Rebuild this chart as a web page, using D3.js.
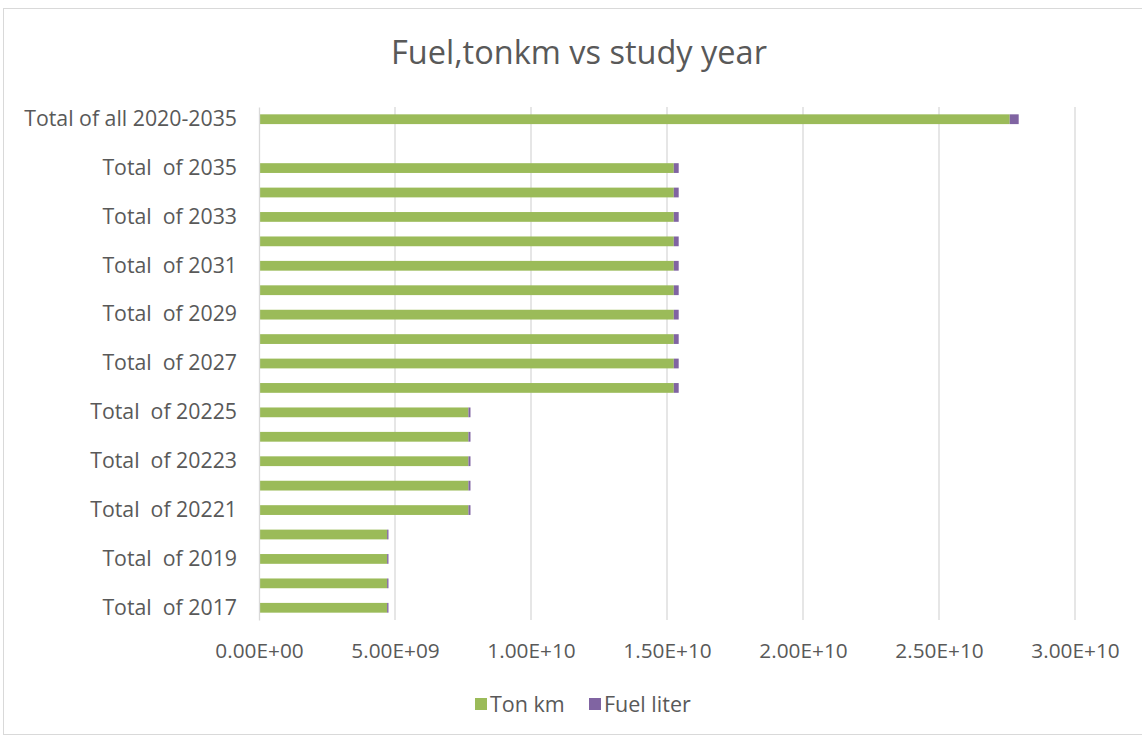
<!DOCTYPE html>
<html>
<head>
<meta charset="utf-8">
<script src="https://cdn.jsdelivr.net/npm/d3@7"></script>
<style>
  body { margin: 0; background: #fff; }
  text { font-family: "Open Sans", sans-serif; fill: #595959; }
  .tick text { white-space: pre; }
</style>
</head>
<body>
<div id="wrapper"></div>
<script>
// categories bottom to top, "" is the empty slot under the grand total
const categories = [
  "Total  of 2017", "Total  of 2018", "Total  of 2019", "Total  of 2020",
  "Total  of 20221", "Total  of 20222", "Total  of 20223", "Total  of 20224", "Total  of 20225",
  "Total  of 2026", "Total  of 2027", "Total  of 2028", "Total  of 2029", "Total  of 2030",
  "Total  of 2031", "Total  of 2032", "Total  of 2033", "Total  of 2034", "Total  of 2035",
  "", "Total of all 2020-2035"
];
const tonKm = [
  4.71e9, 4.71e9, 4.71e9, 4.71e9,
  7.70e9, 7.70e9, 7.70e9, 7.70e9, 7.70e9,
  15.25e9, 15.25e9, 15.25e9, 15.25e9, 15.25e9,
  15.25e9, 15.25e9, 15.25e9, 15.25e9, 15.25e9,
  0, 27.6e9
];
const fuelLiter = [
  0.05e9, 0.05e9, 0.05e9, 0.05e9,
  0.075e9, 0.075e9, 0.075e9, 0.075e9, 0.075e9,
  0.18e9, 0.18e9, 0.18e9, 0.18e9, 0.18e9,
  0.18e9, 0.18e9, 0.18e9, 0.18e9, 0.18e9,
  0, 0.33e9
];
const seriesNames = ["Ton km", "Fuel liter"];
const seriesColors = ["#9bbb59", "#8064a2"];
const xTicks = [0, 5e9, 1e10, 1.5e10, 2e10, 2.5e10, 3e10];

const width = 1142;
const height = 738;
const margin = { top: 107, right: 67, bottom: 118, left: 259 };

const svg = d3.select("#wrapper").append("svg")
  .attr("width", width)
  .attr("height", height);

// chart border
svg.append("rect")
  .attr("x", 3.5).attr("y", 8.5)
  .attr("width", width + 10).attr("height", height - 12)
  .attr("fill", "none").attr("stroke", "#d9d9d9");

const x = d3.scaleLinear()
  .domain([0, 3e10])
  .range([margin.left, width - margin.right]);

const y = d3.scaleBand()
  .domain(categories.slice().reverse())
  .range([margin.top, height - margin.bottom])
  .paddingInner(0.6)
  .paddingOuter(0.3);

// grid
svg.append("g")
  .selectAll("line")
  .data(xTicks.slice(1))
  .join("line")
  .attr("x1", d => x(d)).attr("x2", d => x(d))
  .attr("y1", margin.top).attr("y2", height - margin.bottom)
  .attr("stroke", "#d9d9d9").attr("stroke-width", 1.3);

// title
svg.append("text")
  .attr("x", 579).attr("y", 64)
  .attr("text-anchor", "middle")
  .style("font-size", "32.5px")
  .text("Fuel,tonkm vs study year");

// stacked bars
const rows = categories.map((c, i) => ({ cat: c, tonKm: tonKm[i], fuel: fuelLiter[i] }));
const stack = d3.stack().keys(["tonKm", "fuel"])(rows);

svg.append("g")
  .selectAll("g")
  .data(stack)
  .join("g")
  .attr("fill", (d, i) => seriesColors[i])
  .selectAll("rect")
  .data(d => d)
  .join("rect")
  .attr("x", d => x(d[0]))
  .attr("width", d => x(d[1]) - x(d[0]))
  .attr("y", d => y(d.data.cat))
  .attr("height", y.bandwidth());

// y axis (every other label, like the original)
const yAxis = svg.append("g")
  .attr("transform", `translate(${margin.left},0)`)
  .call(d3.axisLeft(y).tickSize(0).tickPadding(22)
    .tickFormat(d => {
      const i = categories.indexOf(d);
      return (i % 2 === 0) ? d : "";
    }));
yAxis.select(".domain").attr("stroke", "#d9d9d9").attr("stroke-width", 1.3);
yAxis.selectAll("text")
  .style("font-size", "21.3px")
  .attr("fill", "#595959");

// x axis
const xAxis = svg.append("g")
  .attr("transform", `translate(0,${height - margin.bottom})`)
  .call(d3.axisBottom(x).tickValues(xTicks).tickSize(0).tickPadding(23)
    .tickFormat(d => d3.format(".2e")(d).toUpperCase().replace(/E([+-])(\d)$/, "E$10$2")));
xAxis.select(".domain").remove();
xAxis.selectAll("text")
  .style("font-size", "20.8px")
  .attr("fill", "#595959");

// legend
const legend = svg.append("g").attr("transform", "translate(475,704)");
const legendX = [0, 114];
seriesNames.forEach((name, i) => {
  const g = legend.append("g").attr("transform", `translate(${legendX[i]},0)`);
  g.append("rect")
    .attr("x", 0).attr("y", -6)
    .attr("width", 12).attr("height", 12)
    .attr("fill", seriesColors[i]);
  g.append("text")
    .attr("x", 15).attr("y", 0)
    .attr("dy", "0.35em")
    .style("font-size", "21.5px")
    .text(name);
});
</script>
</body>
</html>
